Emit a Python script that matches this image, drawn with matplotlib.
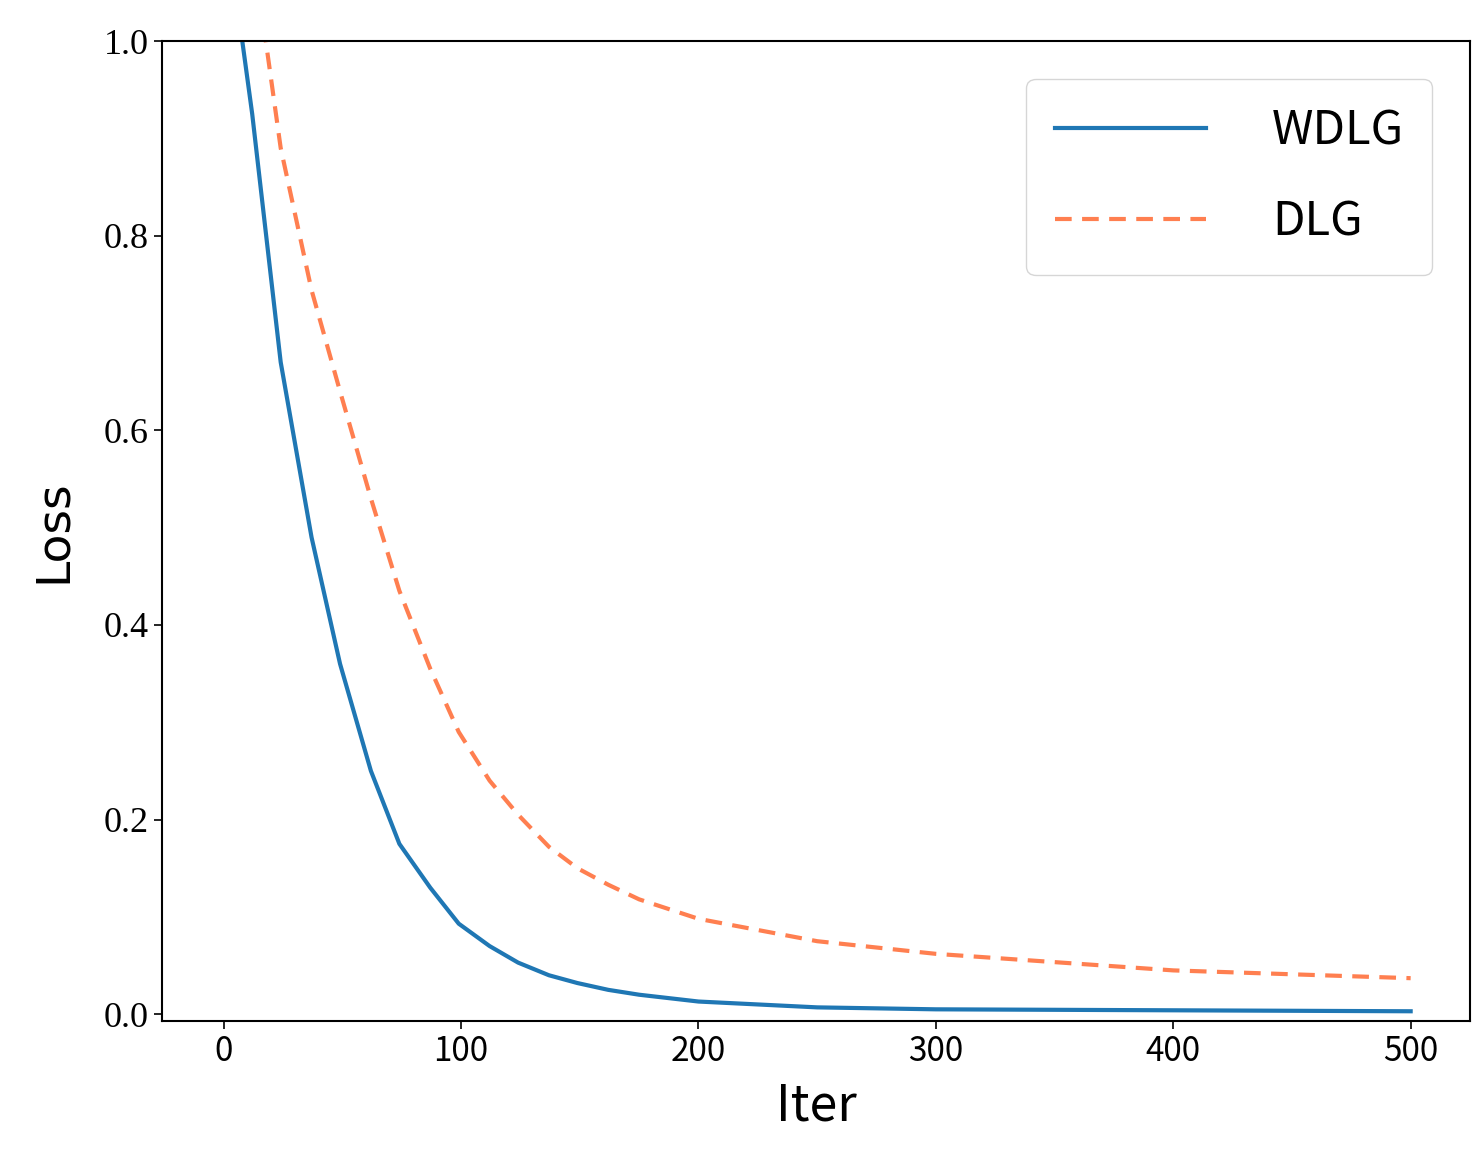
import matplotlib.pyplot as plt

iters = [0, 12, 24, 37, 49, 62, 74, 87, 99, 112, 124, 137, 149, 162, 175, 200, 250, 300, 400, 500]
wdlg = [1.14, 0.925, 0.67, 0.49, 0.36, 0.25, 0.175, 0.13, 0.093, 0.07, 0.053, 0.04, 0.032,
        0.025, 0.02, 0.013, 0.007, 0.005, 0.004, 0.003]
dlg = [1.3, 1.1, 0.89, 0.744, 0.64, 0.53, 0.435, 0.355, 0.29, 0.24, 0.205, 0.172, 0.15,
       0.133, 0.118, 0.098, 0.075, 0.062, 0.045, 0.037]

fig = plt.figure(figsize=(14.84, 11.57), dpi=100)
ax = fig.add_axes([162 / 1484, 1 - 1021 / 1157, 1308 / 1484, 980 / 1157])

ax.plot(iters, wdlg, color='#1f77b4', lw=3, label='WDLG')
ax.plot(iters, dlg, color='#ff7f50', lw=3, ls=(0, (4, 2.5)), label='DLG')

ax.set_xlim(-26, 525)
ax.set_ylim(-0.007, 1.0)
ax.set_xticks([0, 100, 200, 300, 400, 500])
ax.set_yticks([0.0, 0.2, 0.4, 0.6, 0.8, 1.0])
ax.set_yticklabels(['0.0', '0.2', '0.4', '0.6', '0.8', '1.0'], family='Liberation Serif', fontsize=26)
for t in ax.get_xticklabels():
    t.set_fontsize(24)
    t.set_family(['Noto Sans CJK SC', 'DejaVu Sans'])
ax.tick_params(length=6, width=1.2)
for s in ax.spines.values():
    s.set_linewidth(1.5)

ax.set_xlabel('Iter', fontsize=36, family=['Noto Sans CJK SC', 'DejaVu Sans'], labelpad=8)
ax.set_ylabel('Loss', fontsize=34, family='DejaVu Sans', labelpad=20)

leg = ax.legend(loc='upper right', prop={'family': ['Noto Sans CJK SC', 'DejaVu Sans'], 'size': 34},
                handlelength=3.2, borderpad=0.6, labelspacing=0.9, handletextpad=1.4,
                borderaxespad=0.8)
fig.savefig('out.png', dpi=100)
